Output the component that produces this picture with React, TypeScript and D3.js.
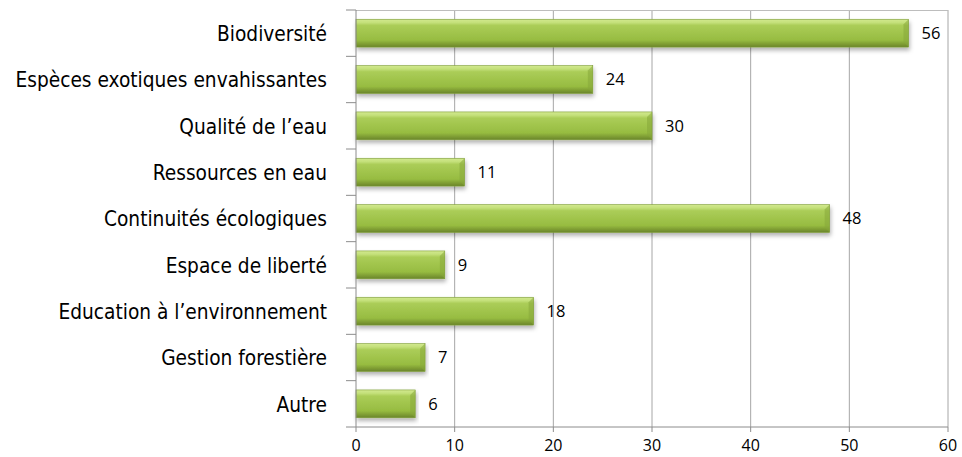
import React, { useRef, useEffect } from 'react';
import * as d3 from 'd3';

const categories = [
  'Biodiversité',
  'Espèces exotiques envahissantes',
  'Qualité de l\u2019eau',
  'Ressources en eau',
  'Continuités écologiques',
  'Espace de liberté',
  'Education à l\u2019environnement',
  'Gestion forestière',
  'Autre',
];
const values = [56, 24, 30, 11, 48, 9, 18, 7, 6];
const xTicks = [0, 10, 20, 30, 40, 50, 60];

const App = () => {
  const svgRef = useRef<SVGSVGElement>(null);

  useEffect(() => {
    const width = 962;
    const height = 457;
    const margin = { top: 10, right: 14, bottom: 30, left: 356 };
    const svg = d3.select(svgRef.current).attr('width', width).attr('height', height);
    svg.selectAll('*').remove();

    const x = d3.scaleLinear().domain([0, 60]).range([margin.left, width - margin.right]);
    const y = d3.scaleBand().domain(categories).range([margin.top, height - margin.bottom]).paddingInner(0.4).paddingOuter(0.2);
    const band = d3.scaleBand().domain(categories).range([margin.top, height - margin.bottom]);

    const defs = svg.append('defs');
    const grad = defs.append('linearGradient').attr('id', 'barGrad').attr('x1', 0).attr('y1', 0).attr('x2', 0).attr('y2', 1);
    grad.append('stop').attr('offset', '0%').attr('stop-color', '#d2e98f');
    grad.append('stop').attr('offset', '12%').attr('stop-color', '#c4e07a');
    grad.append('stop').attr('offset', '22%').attr('stop-color', '#abcd58');
    grad.append('stop').attr('offset', '75%').attr('stop-color', '#97bc41');
    grad.append('stop').attr('offset', '88%').attr('stop-color', '#809f34');
    grad.append('stop').attr('offset', '100%').attr('stop-color', '#6a852b');
    const shadow = defs.append('filter').attr('id', 'shadow').attr('x', '-5%').attr('y', '-20%').attr('width', '110%').attr('height', '160%');
    shadow.append('feDropShadow').attr('dx', 1).attr('dy', 3).attr('stdDeviation', 2).attr('flood-color', '#000').attr('flood-opacity', 0.3);

    // grid
    svg.append('g')
      .selectAll('line')
      .data(xTicks.slice(1))
      .join('line')
      .attr('x1', d => x(d)).attr('x2', d => x(d))
      .attr('y1', margin.top).attr('y2', height - margin.bottom)
      .attr('stroke', '#a6a6a6').attr('stroke-width', 1);
    svg.append('line')
      .attr('x1', x(0)).attr('x2', x(60))
      .attr('y1', margin.top + 0.5).attr('y2', margin.top + 0.5)
      .attr('stroke', '#bdbdbd');

    // bars
    svg.append('g')
      .selectAll('rect')
      .data(values)
      .join('rect')
      .attr('x', x(0))
      .attr('y', (d, i) => y(categories[i])!)
      .attr('width', d => x(d) - x(0))
      .attr('height', y.bandwidth())
      .attr('fill', 'url(#barGrad)')
      .attr('stroke', '#7c9a35')
      .attr('stroke-width', 0.6)
      .attr('filter', 'url(#shadow)');

    // bevel on right end
    svg.append('g')
      .selectAll('path')
      .data(values)
      .join('path')
      .attr('d', (d, i) => {
        const x1 = x(d);
        const y0 = y(categories[i])!;
        const h = y.bandwidth();
        return `M${x1},${y0} L${x1 - 5},${y0 + 5} L${x1 - 5},${y0 + h - 5} L${x1},${y0 + h} Z`;
      })
      .attr('fill', '#86a83a')
      .attr('opacity', 0.55);

    // y axis
    const yAxis = svg.append('g');
    yAxis.append('line')
      .attr('x1', x(0)).attr('x2', x(0))
      .attr('y1', margin.top).attr('y2', height - margin.bottom)
      .attr('stroke', '#8c8c8c');
    yAxis.selectAll('line.tick')
      .data(d3.range(categories.length + 1))
      .join('line')
      .attr('class', 'tick')
      .attr('x1', x(0) - 10).attr('x2', x(0))
      .attr('y1', i => margin.top + i * band.bandwidth())
      .attr('y2', i => margin.top + i * band.bandwidth())
      .attr('stroke', '#8c8c8c');
    yAxis.selectAll('text')
      .data(categories)
      .join('text')
      .attr('transform', d => `translate(327,${y(d)! + y.bandwidth() / 2}) scale(0.94,1)`)
      .attr('dy', '0.36em')
      .attr('text-anchor', 'end')
      .attr('font-family', '"DejaVu Sans Condensed", "DejaVu Sans", sans-serif')
      .attr('font-stretch', 'condensed')
      .attr('font-size', 22)
      .attr('fill', '#000')
      .text(d => d);

    // x axis
    const xAxis = svg.append('g');
    xAxis.append('line')
      .attr('x1', x(0)).attr('x2', x(60))
      .attr('y1', height - margin.bottom).attr('y2', height - margin.bottom)
      .attr('stroke', '#8c8c8c');
    xAxis.selectAll('line.tick')
      .data(xTicks)
      .join('line')
      .attr('class', 'tick')
      .attr('x1', d => x(d)).attr('x2', d => x(d))
      .attr('y1', height - margin.bottom).attr('y2', height - margin.bottom + 5)
      .attr('stroke', '#8c8c8c');
    xAxis.selectAll('text')
      .data(xTicks)
      .join('text')
      .attr('x', d => x(d))
      .attr('y', height - 6)
      .attr('text-anchor', 'middle')
      .attr('font-family', '"Open Sans", sans-serif')
      .attr('font-size', 16)
      .attr('fill', '#000')
      .text(d => d);

    // value labels
    svg.append('g')
      .selectAll('text')
      .data(values)
      .join('text')
      .attr('x', d => x(d) + 13)
      .attr('y', (d, i) => y(categories[i])! + y.bandwidth() / 2)
      .attr('dy', '0.36em')
      .attr('font-family', '"Open Sans", sans-serif')
      .attr('font-size', 16.5)
      .attr('fill', '#000')
      .text(d => d);
  }, []);

  return <svg ref={svgRef} style={{ display: 'block', position: 'absolute', left: 0, top: 0 }}></svg>;
};

export default App;
